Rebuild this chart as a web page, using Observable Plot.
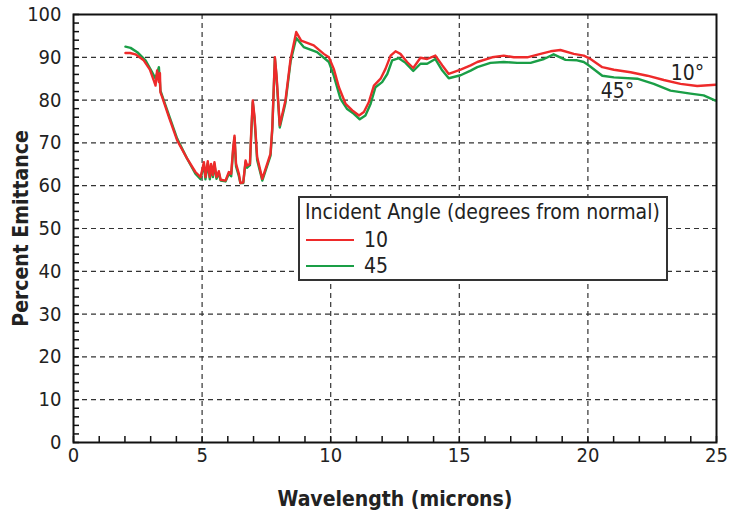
<!DOCTYPE html>
<html>
<head>
<meta charset="utf-8">
<script src="https://cdn.jsdelivr.net/npm/d3@7"></script>
<script src="https://cdn.jsdelivr.net/npm/@observablehq/plot@0.6"></script>
<style>
  html, body { margin: 0; padding: 0; background: #fff; }
  #wrap { position: relative; width: 730px; height: 512px; font-family: "DejaVu Sans Condensed", "Noto Sans", "DejaVu Sans", sans-serif; }
  #legend { position: absolute; left: 298px; top: 196px; width: 366px; height: 81px; border: 2px solid #333; background: #fff; color: #222; }
  #legend .title { position: absolute; left: 5px; top: 2px; font-size: 21px; white-space: nowrap; }
  #legend .row { position: absolute; left: 6px; font-size: 21px; display: flex; align-items: center; }
  #legend .sw { width: 48px; height: 2px; margin-right: 10px; }
</style>
</head>
<body>
<div id="wrap"></div>
<script>
// Wavelength (microns) and percent emittance, incident angle 10°
const wl10 = [2.02,2.2,2.41,2.73,2.97,3.12,3.19,3.25,3.32,3.36,3.38,3.45,3.71,4.03,4.42,4.74,4.94,5.07,5.13,5.22,5.30,5.35,5.42,5.48,5.56,5.65,5.72,5.91,6.04,6.13,6.21,6.26,6.32,6.43,6.49,6.60,6.69,6.75,6.86,6.91,6.97,7.04,7.14,7.34,7.66,7.73,7.83,7.89,8.02,8.24,8.44,8.66,8.85,9.34,9.73,9.93,10.12,10.32,10.58,10.84,11.10,11.29,11.48,11.68,11.94,12.13,12.33,12.52,12.71,12.97,13.21,13.49,13.75,14.07,14.34,14.59,15.05,15.44,15.70,16.28,16.73,17.12,17.64,18.16,18.55,18.93,19.45,19.84,20.10,20.56,21.01,21.66,22.31,22.95,23.60,24.25,24.96];
const pe10 = [91.0,91.0,90.7,89.3,87.1,84.6,83.4,86.9,84.2,86.3,81.8,80.7,76.0,70.6,66.3,63.2,62.0,65.5,62.0,65.7,62.0,65.1,62.5,65.5,62.0,63.4,61.4,61.2,63.2,62.8,69.0,71.7,65.1,62.8,60.6,60.8,65.9,64.7,65.1,72.5,79.9,76.0,66.7,61.6,67.5,73.7,90.0,86.1,74.1,79.9,89.6,95.9,93.9,92.8,90.8,90.0,87.3,83.0,79.1,77.6,76.4,77.2,79.5,83.4,85.0,87.3,90.4,91.4,90.8,88.9,87.5,89.9,89.6,90.4,88.1,86.1,87.1,88.1,88.9,90.0,90.4,90.0,90.0,90.8,91.4,91.7,90.8,90.4,89.6,87.7,87.1,86.5,85.7,84.7,83.8,83.3,83.6];
// incident angle 45°
const wl45 = [2.02,2.22,2.48,2.80,3.06,3.19,3.32,3.38,3.45,3.71,4.03,4.42,4.74,4.94,5.07,5.13,5.22,5.30,5.35,5.42,5.48,5.56,5.65,5.72,5.91,6.04,6.13,6.21,6.26,6.32,6.43,6.49,6.60,6.69,6.75,6.86,6.91,6.97,7.04,7.14,7.34,7.66,7.73,7.83,7.89,8.02,8.24,8.44,8.66,8.95,9.47,9.93,10.12,10.38,10.64,10.90,11.13,11.35,11.55,11.74,12.00,12.20,12.39,12.65,12.91,13.21,13.49,13.75,14.07,14.34,14.59,15.05,15.44,15.70,16.21,16.73,17.25,17.77,18.29,18.67,19.13,19.58,19.84,20.04,20.56,21.01,21.92,22.56,23.21,23.99,24.50,24.96];
const pe45 = [92.5,92.2,91.2,89.3,86.5,85.0,87.7,82.2,81.0,76.5,71.0,66.3,62.8,61.5,65.0,61.5,65.2,61.5,64.8,62.0,65.0,61.6,63.0,61.2,61.0,62.8,62.2,68.5,71.2,64.5,62.2,60.6,60.6,65.5,64.2,64.8,72.0,79.5,75.5,66.0,61.2,67.0,73.2,89.8,85.6,73.6,79.3,89.0,94.5,92.4,91.2,88.9,85.7,80.3,77.9,76.8,75.5,76.4,79.1,83.0,84.2,86.1,89.3,89.8,88.7,86.8,88.5,88.5,89.6,86.9,85.1,85.8,86.9,87.7,88.7,88.9,88.7,88.7,89.6,90.7,89.4,89.3,88.9,88.1,85.7,85.3,85.0,83.8,82.2,81.5,81.1,79.9];

const xTicks = [0,5,10,15,20,25];
const yTicks = [0,10,20,30,40,50,60,70,80,90,100];
const seriesNames = ["10", "45"];
const seriesColors = ["#ee2a2a", "#1a9e46"];
const curveLabels = [{x: 23.87, y: 84.8, t: "10°"}, {x: 21.15, y: 80.6, t: "45°"}];

const d10 = wl10.map((x, i) => ({x, y: pe10[i]}));
const d45 = wl45.map((x, i) => ({x, y: pe45[i]}));

const font = '"DejaVu Sans Condensed", "Noto Sans", "DejaVu Sans", sans-serif';

const chart = Plot.plot({
  width: 730,
  height: 512,
  marginLeft: 73,
  marginRight: 14,
  marginTop: 14,
  marginBottom: 70,
  style: {fontFamily: font, fontSize: "20px", color: "#222", background: "#fff"},
  x: {domain: [0, 25]},
  y: {domain: [0, 100]},
  marks: [
    Plot.gridX(xTicks.slice(1, -1), {stroke: "#333", strokeOpacity: 1, strokeDasharray: "5,4", strokeWidth: 1.2}),
    Plot.gridY(yTicks.slice(1, -1), {stroke: "#333", strokeOpacity: 1, strokeDasharray: "5,4", strokeWidth: 1.2}),
    Plot.line(d45, {x: "x", y: "y", stroke: seriesColors[1], strokeWidth: 2.4}),
    Plot.line(d10, {x: "x", y: "y", stroke: seriesColors[0], strokeWidth: 2.4}),
    Plot.frame({stroke: "#111", strokeWidth: 2}),
    Plot.axisX(d3.range(0, 26, 1), {tickSize: -6, tickFormat: () => "", label: null, stroke: "#111", strokeWidth: 1.5}),
    Plot.axisY(d3.range(0, 101, 2), {tickSize: -6, tickFormat: () => "", label: null, stroke: "#111", strokeWidth: 1.5}),
    Plot.axisX(xTicks, {tickSize: 0, tickPadding: 5, fontSize: 20, label: "Wavelength (microns)", labelAnchor: "center", labelOffset: 63, labelArrow: "none"}),
    Plot.axisY(yTicks, {tickSize: 0, tickPadding: 12, fontSize: 20, label: "Percent Emittance", labelAnchor: "center", labelOffset: 60, labelArrow: "none"}),
    Plot.text(curveLabels, {x: "x", y: "y", text: "t", fontSize: 21, fill: "#222", lineAnchor: "bottom"})
  ]
});

// bold axis titles
chart.querySelectorAll("g[aria-label='x-axis label'] text, g[aria-label='y-axis label'] text").forEach(t => {
  t.setAttribute("font-weight", "bold");
  t.setAttribute("font-size", "21");
  t.setAttribute("fill", "#222");
});

const wrap = document.getElementById("wrap");
wrap.appendChild(chart);

const legend = document.createElement("div");
legend.id = "legend";
let html = '<div class="title">Incident Angle (degrees from normal)</div>';
seriesNames.forEach((n, i) => {
  html += `<div class="row" style="top:${30 + i * 26}px"><div class="sw" style="background:${seriesColors[i]}"></div>${n}</div>`;
});
legend.innerHTML = html;
wrap.appendChild(legend);
</script>
</body>
</html>
